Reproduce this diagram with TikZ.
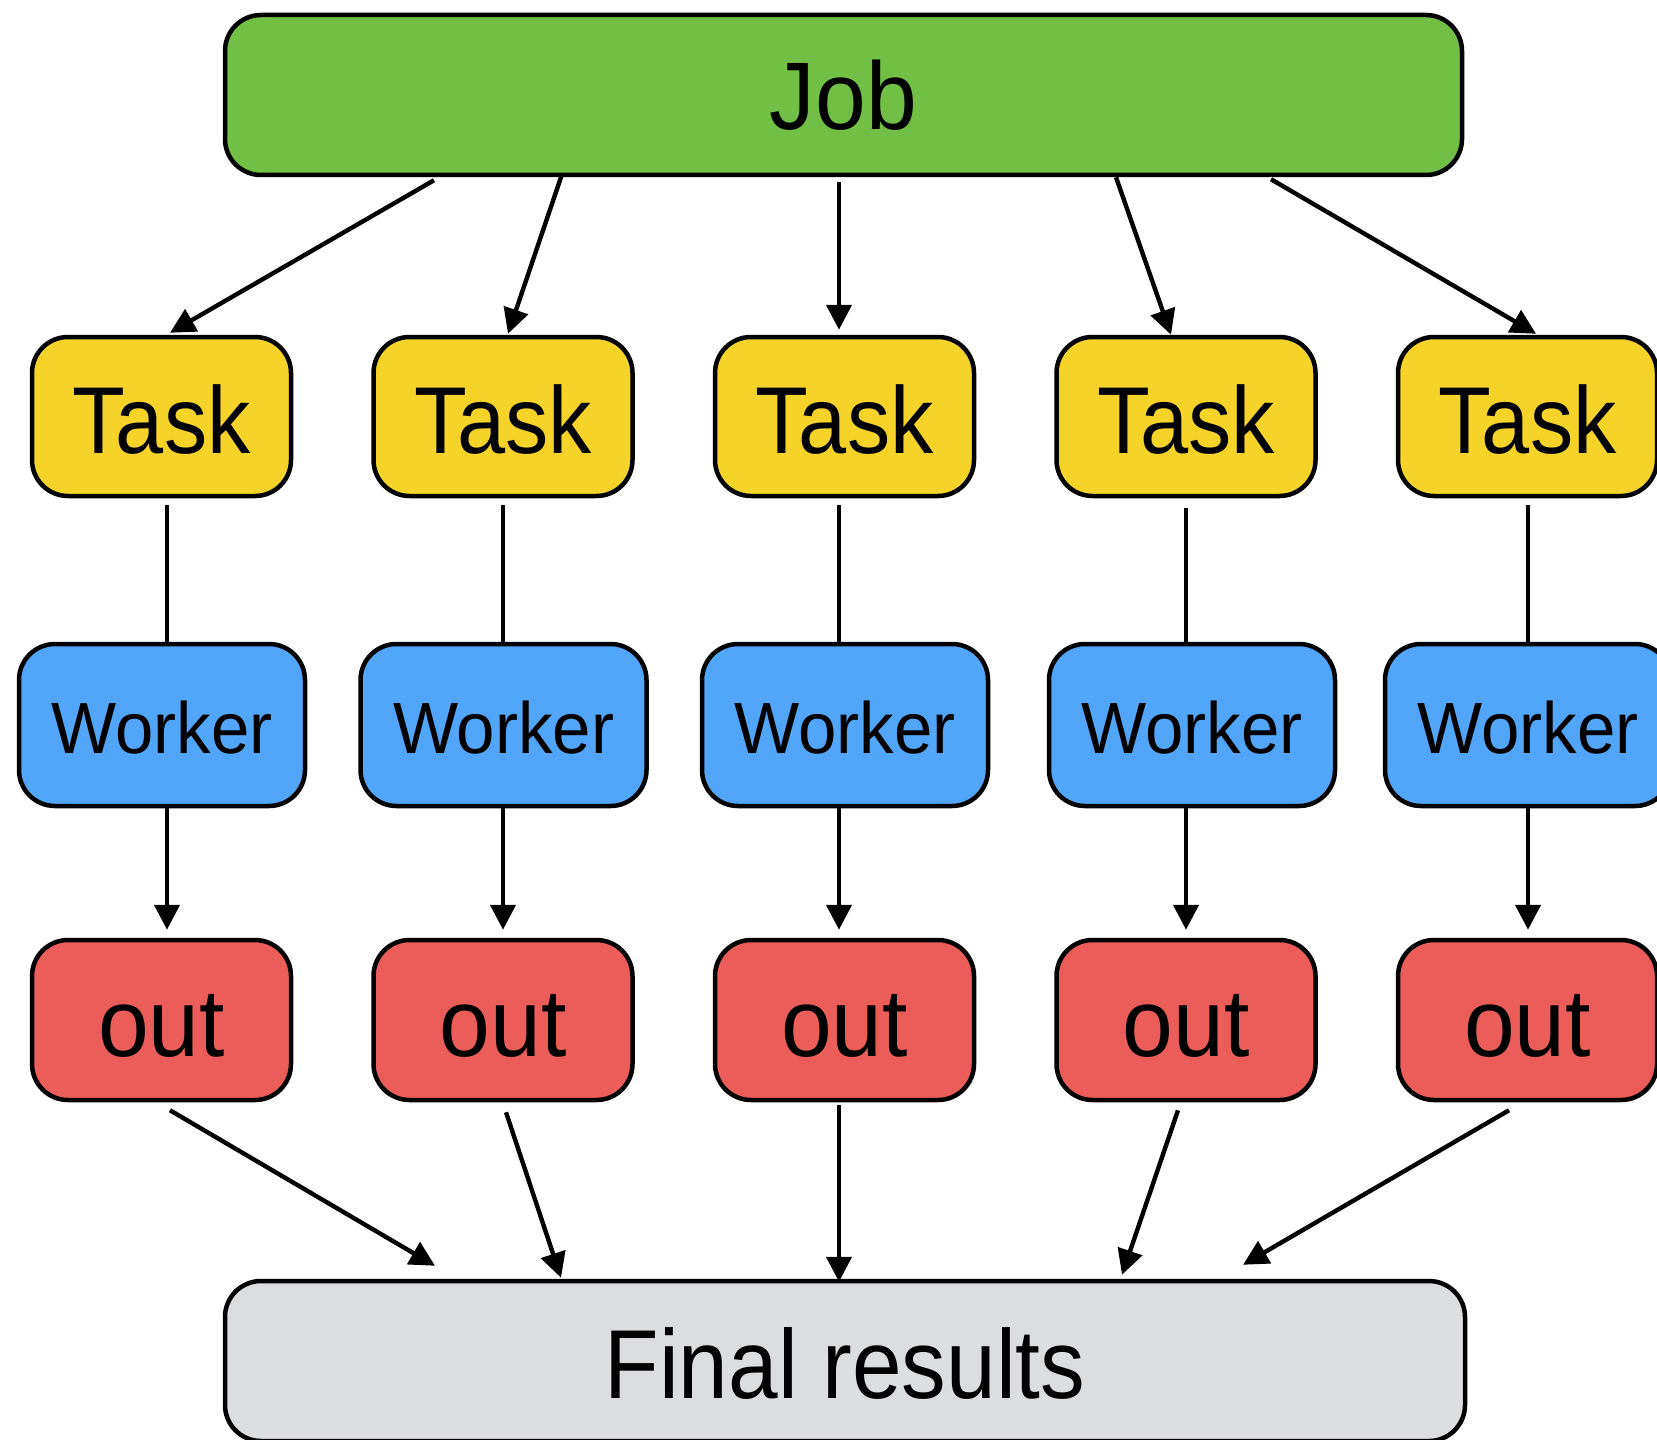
\documentclass[tikz,border=0pt]{standalone}
\usepackage{fontspec}
\setmainfont{Liberation Sans}
\newfontfamily\fnta{Liberation Sans}[FakeStretch=0.91]
\newfontfamily\fntb{Liberation Sans}[FakeStretch=0.95]
\usetikzlibrary{arrows.meta,calc}
\definecolor{jobgreen}{RGB}{113,191,68}
\definecolor{taskyellow}{RGB}{245,211,41}
\definecolor{workerblue}{RGB}{82,166,250}
\definecolor{outred}{RGB}{235,93,88}
\definecolor{finalgray}{RGB}{220,221,223}
\tikzset{
  box/.style={draw=black, line width=2.25pt, rounded corners=18pt, inner sep=0pt, text depth=0pt},
  jobbox/.style={box, fill=jobgreen, minimum width=618.5pt, minimum height=80pt, text height=35pt, font=\fntb\fontsize{48pt}{48pt}\selectfont},
  taskbox/.style={box, fill=taskyellow, minimum width=129.5pt, minimum height=79.5pt, text height=36.5pt, font=\fnta\fontsize{47.5pt}{47.5pt}\selectfont},
  workerbox/.style={box, fill=workerblue, minimum width=143pt, minimum height=81pt, text height=28pt, font=\fntb\fontsize{36.3pt}{36.3pt}\selectfont},
  outbox/.style={box, fill=outred, minimum width=129.5pt, minimum height=80pt, text height=36pt, font=\fntb\fontsize{48pt}{48pt}\selectfont},
  finalbox/.style={box, fill=finalgray, minimum width=620pt, minimum height=80pt, text height=37pt, font=\fnta\fontsize{49pt}{49pt}\selectfont},
  arr/.style={line width=2.2pt, -{Triangle[length=12.5pt,width=12.5pt]}},
  conn/.style={line width=2.2pt}
}
\begin{document}
\begin{tikzpicture}[x=0.5pt,y=-0.5pt]
\fill[white] (0,0) rectangle (1657,1439);
\useasboundingbox (0,0) rectangle (1657,1439);

\node[jobbox] (job) at (843.5,95) {Job};

\node[taskbox] (t1) at (161.5,416.5) {Task};
\node[taskbox] (t2) at (503,416.5) {Task};
\node[taskbox] (t3) at (844.5,416.5) {Task};
\node[taskbox] (t4) at (1186,416.5) {Task};
\node[taskbox] (t5) at (1527.5,416.5) {Task};

\node[workerbox] (w1) at (162,725) {Worker};
\node[workerbox] (w2) at (503.5,725) {Worker};
\node[workerbox] (w3) at (845,725) {Worker};
\node[workerbox] (w4) at (1192,725) {Worker};
\node[workerbox] (w5) at (1528,725) {Worker};

\node[outbox] (o1) at (161.5,1020) {out};
\node[outbox] (o2) at (503,1020) {out};
\node[outbox] (o3) at (844.5,1020) {out};
\node[outbox] (o4) at (1186,1020) {out};
\node[outbox] (o5) at (1527.5,1020) {out};

\node[finalbox] (fin) at (845,1361) {Final results};

% Job -> Tasks
\draw[arr] ($(job.south)+(-409.5,3)$) -- ($(t1.north)+(8.5,-2)$);
\draw[arr] ($(job.south)+(-281.5,-3)$) -- ($(t2.north)+(5,-1)$);
\draw[arr] ($(job.south)+(-4.5,5)$) -- ($(t3.north)+(-5.5,-5)$);
\draw[arr] ($(job.south)+(272.5,0)$) -- ($(t4.north)+(-15,0)$);
\draw[arr] ($(job.south)+(427.5,2)$) -- ($(t5.north)+(8.5,-1)$);

% Tasks -- Workers
\draw[conn] ($(t1.south)+(5.5,7)$) -- ($(w1.north)+(5,0)$);
\draw[conn] ($(t2.south)+(0,7)$) -- ($(w2.north)+(-0.5,0)$);
\draw[conn] ($(t3.south)+(-5.5,7)$) -- ($(w3.north)+(-6,0)$);
\draw[conn] ($(t4.south)+(0,10)$) -- ($(w4.north)+(-6,0)$);
\draw[conn] ($(t5.south)+(0.5,7)$) -- ($(w5.north)+(0,0)$);

% Workers -> outs
\draw[arr] ($(w1.south)+(5,0)$) -- ($(o1.north)+(5.5,-8)$);
\draw[arr] ($(w2.south)+(-0.5,0)$) -- ($(o2.north)+(0,-8)$);
\draw[arr] ($(w3.south)+(-6,0)$) -- ($(o3.north)+(-5.5,-8)$);
\draw[arr] ($(w4.south)+(-6,0)$) -- ($(o4.north)+(0,-8)$);
\draw[arr] ($(w5.south)+(0,0)$) -- ($(o5.north)+(0.5,-8)$);

% outs -> Final results
\draw[arr] ($(o1.south)+(8.5,8)$) -- ($(fin.north)+(-410,-13)$);
\draw[arr] ($(o2.south)+(3,10)$) -- ($(fin.north)+(-284,-1)$);
\draw[arr] ($(o3.south)+(-5.5,3)$) -- ($(fin.north)+(-6,3)$);
\draw[arr] ($(o4.south)+(-8,8)$) -- ($(fin.north)+(277,-4)$);
\draw[arr] ($(o5.south)+(-18.5,8)$) -- ($(fin.north)+(398,-14)$);
\end{tikzpicture}
\end{document}
